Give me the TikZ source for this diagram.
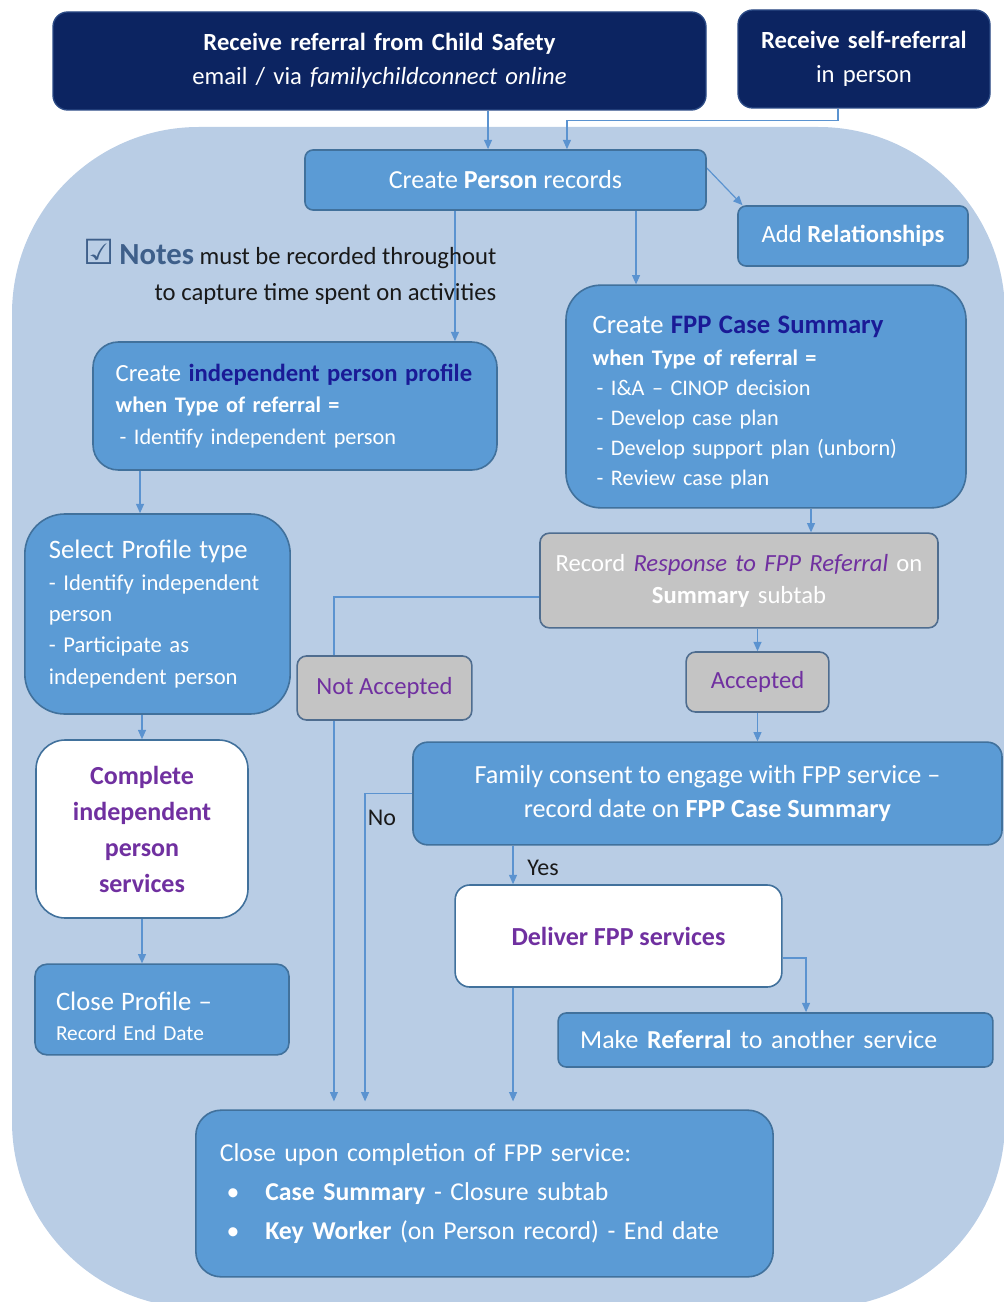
\documentclass[tikz,border=0pt]{standalone}
\usepackage{fontspec}
\setmainfont{Carlito}
\newfontfamily\symfont{DejaVu Sans}
\usetikzlibrary{arrows.meta}

\definecolor{navyfill}{HTML}{0C2461}
\definecolor{navyline}{HTML}{2B4A85}
\definecolor{midblue}{HTML}{5B9BD5}
\definecolor{midline}{HTML}{41719C}
\definecolor{bgblue}{HTML}{B9CDE5}
\definecolor{greyfill}{HTML}{C4C4C4}
\definecolor{greyline}{HTML}{4F6D8F}
\definecolor{arrowblue}{HTML}{5B93D0}
\definecolor{purpletext}{HTML}{7030A0}
\definecolor{navytext}{HTML}{1A1A96}
\definecolor{notesblue}{HTML}{3E5F8A}

\pgfdeclarelayer{back}
\pgfdeclarelayer{lines}
\pgfsetlayers{back,lines,main}

\tikzset{
	navybox/.style={rectangle, rounded corners=11pt, fill=navyfill, draw=navyline, line width=1pt, text=white, align=center, inner sep=0pt, font=\fontsize{18.5}{26}\selectfont},
	bluebox/.style={rectangle, rounded corners=6pt, fill=midblue, draw=midline, line width=1.2pt, text=white, inner sep=0pt, font=\fontsize{19}{24}\selectfont},
	greybox/.style={rectangle, rounded corners=7pt, fill=greyfill, draw=greyline, line width=1.2pt, text=white, inner sep=0pt, font=\fontsize{18.5}{24}\selectfont},
	whitebox/.style={rectangle, rounded corners=11pt, fill=white, draw=midline, line width=1.2pt, inner sep=0pt, font=\fontsize{19.5}{24}\selectfont\bfseries},
	lbl/.style={font=\fontsize{18}{22}\selectfont, text=black!90},
	arr/.style={draw=arrowblue, line width=0.9pt, -{Triangle[length=7pt,width=6pt]}}
}

\begin{document}
\begin{tikzpicture}[x=0.75pt,y=-0.75pt]
	\useasboundingbox (0,0) rectangle (1003,1302);
	
	\begin{pgfonlayer}{back}
	\fill[bgblue, rounded corners=140pt] (12,127) rectangle (1005,1308);
	\end{pgfonlayer}
	
	\node[navybox, minimum width=489.75pt, minimum height=73.5pt, text width=470pt] (a) at (379.5,61)
		{\textbf{Receive referral from Child Safety}\\ email / via \textit{familychildconnect online}};
	\node[navybox, minimum width=189pt, minimum height=73.5pt, text width=180pt] (b) at (864,59)
		{\textbf{Receive self-referral}\\ in person};
	\node[bluebox, minimum width=300.75pt, minimum height=45pt, font=\fontsize{19.5}{24}\selectfont] (c) at (505.5,180)
		{Create \textbf{Person} records};
	\node[bluebox, minimum width=172.5pt, minimum height=45pt, font=\fontsize{18.5}{24}\selectfont] (d) at (853,236)
		{Add \textbf{Relationships}};
	\node[anchor=east, align=right, font=\fontsize{18.5}{27}\selectfont, text=black!90] (n) at (501,272)
		{\textcolor{notesblue}{{\symfont\fontsize{26}{27}\selectfont ☑}\hspace{4pt}{\fontsize{23}{27}\selectfont\textbf{Notes}}} must be recorded throughout\\ to capture time spent on activities};
	\node[bluebox, rounded corners=19pt, minimum width=303pt, minimum height=96pt, text width=269pt, align=left, font=\fontsize{16.7}{23.5}\selectfont] (e) at (295,406)
		{\mbox{\fontsize{18.5}{24}\selectfont Create \textcolor{navytext}{\textbf{independent person profile}}}\\
		\textbf{when Type of referral =}\\
		\hspace*{3pt}- Identify independent person};
	\node[bluebox, rounded corners=26pt, minimum width=300pt, minimum height=167pt, text width=260pt, align=left, font=\fontsize{16.7}{22.5}\selectfont] (f) at (766,396.5)
		{\rule{0pt}{22pt}{\fontsize{20}{24}\selectfont Create \textcolor{navytext}{\textbf{FPP Case Summary}}}\\[1pt]
		\textbf{when Type of referral =}\\
		\hspace*{3pt}- I\&A -- CINOP decision\\
		\hspace*{3pt}- Develop case plan\\
		\hspace*{3pt}- Develop support plan (unborn)\\
		\hspace*{3pt}- Review case plan};
	\node[greybox, minimum width=298.5pt, minimum height=71pt, text width=290pt, align=center] (g) at (739,580.5)
		{Record \textcolor{purpletext}{\textit{Response to FPP Referral}} on\\ \textbf{Summary} subtab};
	\node[greybox, minimum width=131pt, minimum height=48pt, text=purpletext] (h) at (384.5,688) {Not Accepted};
	\node[greybox, minimum width=107pt, minimum height=45pt, text=purpletext] (i) at (757.5,682) {Accepted};
	\node[bluebox, rounded corners=11pt, minimum width=441.75pt, minimum height=77pt, align=center, font=\fontsize{19.6}{25.5}\selectfont] (j) at (707.5,793.5)
		{Family consent to engage with FPP service --\\ record date on \textbf{FPP Case Summary}};
	\node[whitebox, minimum width=245pt, minimum height=76.5pt, text=purpletext] (k) at (618.5,936) {Deliver FPP services};
	\node[bluebox, minimum width=326pt, minimum height=40.5pt, text width=293pt, align=left, font=\fontsize{19.4}{24}\selectfont] (l) at (775.5,1040)
		{Make \textbf{Referral} to another service};
	\node[bluebox, rounded corners=19pt, minimum width=433pt, minimum height=125pt, text width=397pt, align=left, font=\fontsize{19.3}{29}\selectfont] (m) at (484.5,1193.5)
		{Close upon completion of FPP service:\\
		\hspace*{5pt}\textbullet\hspace*{19.5pt}\textbf{Case Summary} - Closure subtab\\
		\hspace*{5pt}\textbullet\hspace*{19.5pt}\textbf{Key Worker} (on Person record) - End date};
	\node[bluebox, rounded corners=30pt, minimum width=199pt, minimum height=150pt, text width=163pt, align=left, font=\fontsize{17}{23.5}\selectfont] (o) at (157.5,614)
		{{\fontsize{20}{24}\selectfont Select Profile type}\\ - Identify independent\\ person\\ - Participate as\\ independent person};
	\node[whitebox, rounded corners=22pt, minimum width=159pt, minimum height=133.5pt, text=purpletext, align=center, font=\fontsize{19.5}{27}\selectfont\bfseries] (p) at (142,829)
		{Complete\\ independent\\ person\\ services};
	\node[bluebox, rounded corners=9pt, minimum width=190.5pt, minimum height=68pt, text width=159pt, align=left, font=\fontsize{16}{23}\selectfont] (q) at (162,1009.5)
		{\rule{0pt}{24pt}{\fontsize{20}{24}\selectfont Close Profile --}\\ Record End Date};
	\node[lbl] (no) at (382,818) {No};
	\node[lbl] (yes) at (543,868) {Yes};
	
	\begin{pgfonlayer}{lines}
	\draw[arr] ([xshift=-13.1pt]c.north |- a.south) -- ([xshift=-13.1pt]c.north);
	\draw[arr] ([xshift=-19.5pt]b.south) -- ++(0,12) -| ([xshift=46.1pt]c.north);
	\draw[arr] ([yshift=9pt]c.east) -- ([xshift=4pt]d.north west);
	\draw[arr] ([xshift=-37.9pt]c.south) -- ([xshift=-37.9pt]c.south |- e.north);
	\draw[arr] ([xshift=97.9pt]c.south) -- ([xshift=97.9pt]c.south |- f.north);
	\draw[arr] ([xshift=-13.1pt]o.north |- e.south) -- ([xshift=-13.1pt]o.north);
	\draw[arr] (p.north |- o.south) -- (p.north);
	\draw[arr] (p.south) -- (p.south |- q.north);
	\draw[arr] ([xshift=33.75pt]f.south) -- ([xshift=33.75pt]f.south |- g.north);
	\draw[arr] (i.north |- g.south) -- (i.north);
	\draw[arr] (i.south) -- (i.south |- j.north);
	\draw[arr, shorten >=6pt] ([yshift=-12.4pt]g.west) -| ([xshift=-112.9pt]m.north);
	\draw[arr, shorten >=6pt] (j.west) -| ([xshift=-89.6pt]m.north);
	\draw[arr] ([xshift=-79.1pt]k.north |- j.south) -- ([xshift=-79.1pt]k.north);
	\draw[arr] ([yshift=-16.5pt]k.east) -| ([xshift=22.9pt]l.north);
	\draw[arr, shorten >=6pt] ([xshift=-79.1pt]k.south) -- ([xshift=-79.1pt]k.south |- m.north);
	\end{pgfonlayer}
	
\end{tikzpicture}
\end{document}
